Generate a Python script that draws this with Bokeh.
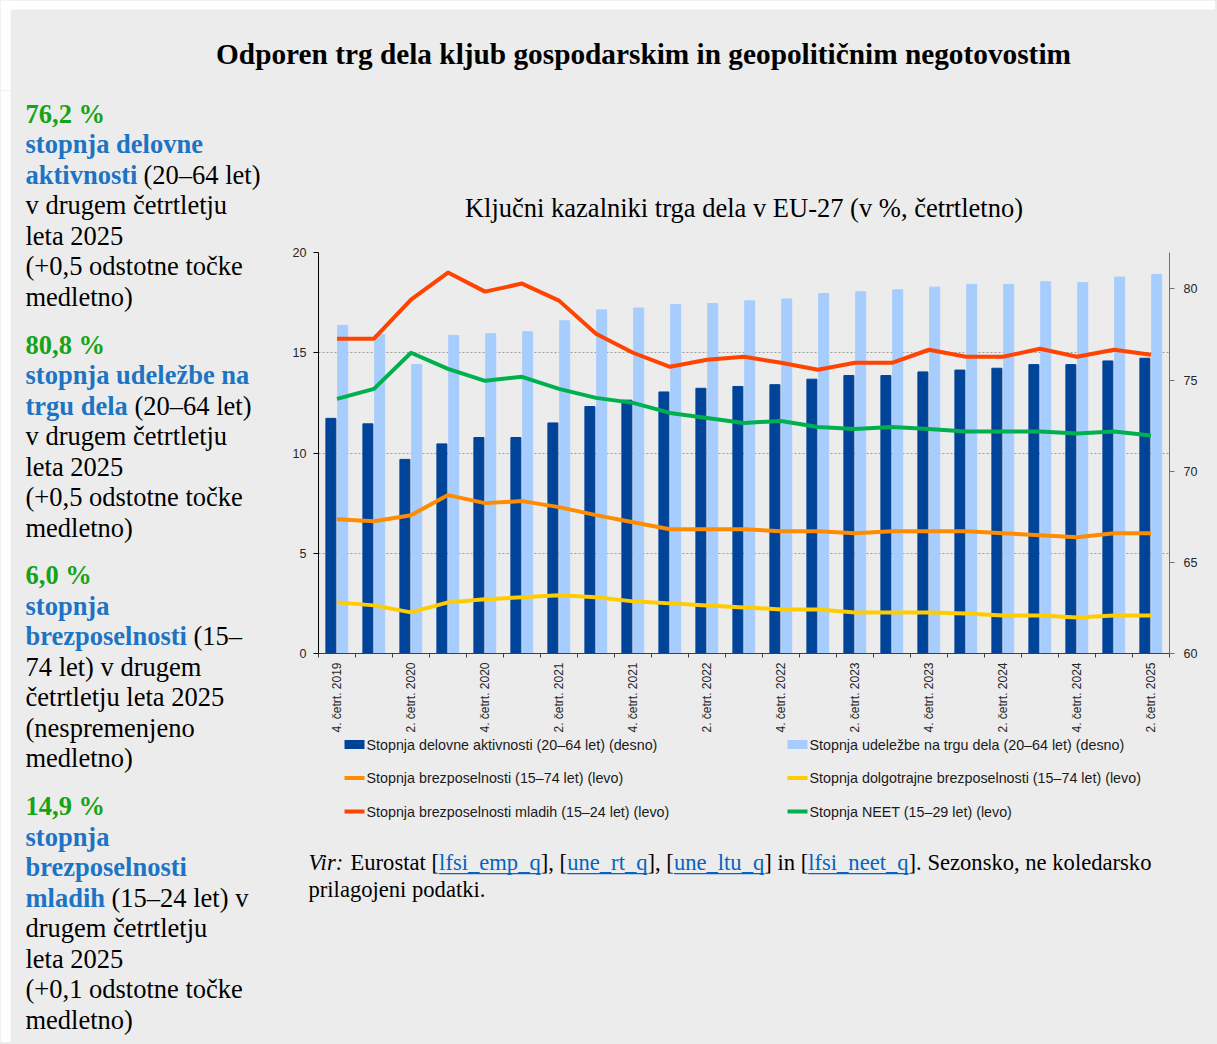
import math
from bokeh.plotting import figure
from bokeh.layouts import column, row
from bokeh.models import (Range1d, LinearAxis, FixedTicker, Label, ColumnDataSource,
                          BoxAnnotation)
from bokeh.transform import dodge
from bokeh.embed import file_html
from bokeh.resources import INLINE

# ---------------- data ----------------
quarters = ["4. četrt. 2019", "1. četrt. 2020", "2. četrt. 2020", "3. četrt. 2020",
            "4. četrt. 2020", "1. četrt. 2021", "2. četrt. 2021", "3. četrt. 2021",
            "4. četrt. 2021", "1. četrt. 2022", "2. četrt. 2022", "3. četrt. 2022",
            "4. četrt. 2022", "1. četrt. 2023", "2. četrt. 2023", "3. četrt. 2023",
            "4. četrt. 2023", "1. četrt. 2024", "2. četrt. 2024", "3. četrt. 2024",
            "4. četrt. 2024", "1. četrt. 2025", "2. četrt. 2025"]

employment = [72.9, 72.6, 70.65, 71.5, 71.85, 71.85, 72.65, 73.55, 73.9, 74.35, 74.55, 74.65,
              74.75, 75.05, 75.25, 75.25, 75.45, 75.55, 75.65, 75.85, 75.85, 76.05, 76.2]
participation = [78.0, 77.5, 75.85, 77.45, 77.55, 77.65, 78.25, 78.85, 78.95, 79.15, 79.2, 79.35,
                 79.45, 79.75, 79.85, 79.95, 80.1, 80.25, 80.25, 80.4, 80.35, 80.65, 80.8]
unemployment = [6.7, 6.6, 6.9, 7.9, 7.5, 7.6, 7.3, 6.9, 6.55, 6.2, 6.2, 6.2,
                6.1, 6.1, 6.0, 6.1, 6.1, 6.1, 6.0, 5.9, 5.8, 6.0, 6.0]
long_term = [2.55, 2.4, 2.05, 2.55, 2.7, 2.8, 2.9, 2.8, 2.6, 2.5, 2.4, 2.3,
             2.2, 2.2, 2.05, 2.05, 2.05, 2.0, 1.9, 1.9, 1.8, 1.9, 1.9]
youth = [15.7, 15.7, 17.65, 19.0, 18.05, 18.45, 17.6, 15.95, 15.0, 14.3, 14.65, 14.8,
         14.5, 14.15, 14.5, 14.5, 15.15, 14.8, 14.8, 15.2, 14.8, 15.15, 14.9]
neet = [12.7, 13.2, 15.0, 14.2, 13.6, 13.8, 13.2, 12.75, 12.5, 12.0, 11.75, 11.5,
        11.6, 11.3, 11.2, 11.3, 11.2, 11.07, 11.07, 11.07, 10.97, 11.07, 10.87]

left_ticks = [0, 5, 10, 15, 20]
right_ticks = [60, 65, 70, 75, 80]

legend_col1 = ["Stopnja delovne aktivnosti (20–64 let) (desno)",
               "Stopnja brezposelnosti (15–74 let) (levo)",
               "Stopnja brezposelnosti mladih (15–24 let) (levo)"]
legend_col2 = ["Stopnja udeležbe na trgu dela (20–64 let) (desno)",
               "Stopnja dolgotrajne brezposelnosti (15–74 let) (levo)",
               "Stopnja NEET (15–29 let) (levo)"]

main_title = "Odporen trg dela kljub gospodarskim in geopolitičnim negotovostim"
chart_title = "Ključni kazalniki trga dela v EU-27 (v %, četrtletno)"

# left column: blocks -> lines -> segments (text, kind); g = green bold, b = blue bold, n = normal
blocks = [
    [[("76,2 %", "g")], [("stopnja delovne", "b")],
     [("aktivnosti", "b"), ("(20–64 let)", "n")],
     [("v drugem četrtletju", "n")], [("leta 2025", "n")],
     [("(+0,5 odstotne točke", "n")], [("medletno)", "n")]],
    [[("80,8 %", "g")], [("stopnja udeležbe na", "b")],
     [("trgu dela", "b"), ("(20–64 let)", "n")],
     [("v drugem četrtletju", "n")], [("leta 2025", "n")],
     [("(+0,5 odstotne točke", "n")], [("medletno)", "n")]],
    [[("6,0 %", "g")], [("stopnja", "b")],
     [("brezposelnosti", "b"), ("(15–", "n")],
     [("74 let) v drugem", "n")], [("četrtletju leta 2025", "n")],
     [("(nespremenjeno", "n")], [("medletno)", "n")]],
    [[("14,9 %", "g")], [("stopnja", "b")], [("brezposelnosti", "b")],
     [("mladih", "b"), ("(15–24 let) v", "n")],
     [("drugem četrtletju", "n")], [("leta 2025", "n")],
     [("(+0,1 odstotne točke", "n")], [("medletno)", "n")]],
]
second_seg_x = {"aktivnosti": 143, "trgu dela": 134, "brezposelnosti": 193, "mladih": 111}

source_parts = [("Vir:", "i", 308), ("Eurostat [", "n", 350), ("lfsi_emp_q", "l", 438.6),
                ("], [", "n", 540.3), ("une_rt_q", "l", 566.7), ("], [", "n", 647),
                ("une_ltu_q", "l", 673.4), ("] in [", "n", 763.8), ("lfsi_neet_q", "l", 807.7),
                ("]. Sezonsko, ne koledarsko", "n", 908.1)]
source_line2 = "prilagojeni podatki."

# ---------------- styling ----------------
BG = "#ececec"
DARK = "#00449a"
LIGHT = "#a6cdfd"
C_YOUTH = "#ff4300"
C_NEET = "#00b04f"
C_UNEMP = "#ff8c00"
C_LT = "#ffcc00"
GREEN_T = "#17a317"
BLUE_T = "#1e74c4"
LINK = "#0563c1"
SERIF = "Liberation Serif"
SANS = "Liberation Sans"

TOTAL_W, TOTAL_H = 1215, 1042
TOP_H = 90          # title strip
LEFT_W = 280        # left text column
CHART_BOTTOM = 736  # page y where chart figure ends
FX0, FX1, FY0, FY1 = 318, 1169, 252, 653   # chart frame edges (page px)
n = len(quarters)


def panel(w, h, x0, y0):
    """Figure whose data coordinates equal page pixels."""
    f = figure(width=w, height=h, x_range=Range1d(x0, x0 + w), y_range=Range1d(y0 + h, y0),
               output_backend="svg", toolbar_location=None, x_axis_location=None,
               y_axis_location=None, min_border=0, background_fill_color=BG,
               border_fill_color=BG, outline_line_color=None)
    f.xgrid.visible = False
    f.ygrid.visible = False
    f.frame_align = False
    return f


def txt(f, px, py, s, size, color, style="normal", font=SERIF, align="left", base=True):
    # py is the text baseline (base=True) or visual centre (base=False)
    y = py - 0.37 * size if base else py
    f.add_layout(Label(x=px, y=y, text=s, text_font=font, text_font_size=f"{size}px",
                       text_color=color, text_font_style=style, text_align=align,
                       text_baseline="alphabetic"))


def box(f, l, r, t, b, color):
    f.add_layout(BoxAnnotation(left=l, right=r, top=t, bottom=b, fill_color=color,
                               fill_alpha=1, line_color=None))


# ---------- top strip with main title ----------
top = panel(TOTAL_W, TOP_H, 0, 0)
box(top, 0, TOTAL_W, 0, 9, "white")
box(top, 0, 10, 0, TOP_H, "white")
txt(top, 643, 64, main_title, 29.3, "#000000", "bold", align="center")

# ---------- left text column ----------
left = panel(LEFT_W, TOTAL_H - TOP_H, 0, TOP_H)
box(left, 0, 10, TOP_H, TOTAL_H, "white")
kind_style = {"g": (GREEN_T, "bold"), "b": (BLUE_T, "bold"), "n": ("#000000", "normal")}
for bi, block in enumerate(blocks):
    base = 123.3 + 230.7 * bi
    for li, line in enumerate(block):
        py = base + 30.5 * li
        for si, (s, kind) in enumerate(line):
            col, sty = kind_style[kind]
            px = 25 if si == 0 else second_seg_x[line[0][0]]
            txt(left, px, py, s, 26.5, col, sty)

# ---------- chart ----------
CW = TOTAL_W - LEFT_W
CH = CHART_BOTTOM - TOP_H
p = figure(width=CW, height=CH, output_backend="svg", toolbar_location=None,
           x_range=Range1d(-0.5, n - 0.5), y_range=Range1d(0, 20),
           min_border_left=FX0 - LEFT_W, min_border_right=TOTAL_W - FX1,
           min_border_top=FY0 - TOP_H, min_border_bottom=CHART_BOTTOM - FY1,
           background_fill_color=BG, border_fill_color=BG, outline_line_color=None,
           title=chart_title)
p.frame_align = False
p.title.align = "center"
p.title.text_font = SERIF
p.title.text_font_size = "26.5px"
p.title.text_font_style = "normal"
p.title.text_color = "#000000"
p.title.standoff = 59

src = ColumnDataSource(dict(x=list(range(n)), emp=employment, part=participation,
                            unemp=unemployment, lt=long_term, youth=youth, neet=neet))

p.extra_y_ranges = {"r": Range1d(60, 82)}

p.vbar(x=dodge("x", -0.165, range=p.x_range), top="emp", bottom=60, width=0.27,
       y_range_name="r", source=src, fill_color=DARK, line_color=DARK)
p.vbar(x=dodge("x", 0.155, range=p.x_range), top="part", bottom=60, width=0.27,
       y_range_name="r", source=src, fill_color=LIGHT, line_color=LIGHT)
p.line("x", "unemp", source=src, line_width=4, line_color=C_UNEMP, line_join="round")
p.line("x", "lt", source=src, line_width=4, line_color=C_LT, line_join="round")
p.line("x", "neet", source=src, line_width=4, line_color=C_NEET, line_join="round")
p.line("x", "youth", source=src, line_width=4, line_color=C_YOUTH, line_join="round")

p.yaxis.ticker = FixedTicker(ticks=left_ticks)
p.yaxis.axis_line_color = "#000000"
p.yaxis.major_tick_line_color = "#000000"
p.yaxis.major_tick_out = 5
p.yaxis.major_tick_in = 0
p.yaxis.minor_tick_line_color = None
p.yaxis.major_label_standoff = 7
p.yaxis.major_label_text_font = SANS
p.yaxis.major_label_text_font_size = "12.5px"
p.yaxis.major_label_text_color = "#262626"

ax_r = LinearAxis(y_range_name="r", ticker=FixedTicker(ticks=right_ticks))
ax_r.axis_line_color = "#707070"
ax_r.major_tick_line_color = "#707070"
ax_r.major_tick_out = 5
ax_r.major_tick_in = 0
ax_r.minor_tick_line_color = None
ax_r.major_label_standoff = 9
ax_r.major_label_text_font = SANS
ax_r.major_label_text_font_size = "12.5px"
ax_r.major_label_text_color = "#262626"
p.add_layout(ax_r, "right")

label_idx = list(range(0, n, 2))
p.xaxis.ticker = FixedTicker(ticks=label_idx, minor_ticks=[i - 0.5 for i in range(n + 1)])
p.xaxis.major_label_overrides = {i: quarters[i] for i in label_idx}
p.xaxis.major_label_orientation = math.pi / 2
p.xaxis.major_tick_line_color = None
p.xaxis.major_tick_out = 0
p.xaxis.major_tick_in = 0
p.xaxis.minor_tick_line_color = "#404040"
p.xaxis.minor_tick_out = 4
p.xaxis.minor_tick_in = 0
p.xaxis.axis_line_color = "#404040"
p.xaxis.major_label_standoff = 5
p.xaxis.major_label_text_font = SANS
p.xaxis.major_label_text_font_size = "12px"
p.xaxis.major_label_text_color = "#262626"

p.xgrid.visible = False
p.ygrid.ticker = FixedTicker(ticks=left_ticks)
p.ygrid.grid_line_color = "#9c9c9c"
p.ygrid.grid_line_dash = "2 2"
p.ygrid.grid_line_width = 1

# ---------- bottom: legend + source ----------
BH = TOTAL_H - CHART_BOTTOM
bot = panel(CW, BH, LEFT_W, CHART_BOTTOM)

legend_rows = [744, 777.5, 811]
legend_cols = [(344, legend_col1, [(DARK, 9), (C_UNEMP, 4), (C_YOUTH, 4)]),
               (787, legend_col2, [(LIGHT, 9), (C_LT, 4), (C_NEET, 4)])]
for cx, labels, swatches in legend_cols:
    for ry, lab, (colr, hgt) in zip(legend_rows, labels, swatches):
        box(bot, cx, cx + 20, ry - hgt / 2, ry + hgt / 2, colr)
        txt(bot, cx + 22, ry, lab, 14.3, "#1a1a1a", font=SANS, base=False)

for s, kind, px in source_parts:
    if kind == "i":
        txt(bot, px, 870, s, 22.6, "#000000", "italic")
    elif kind == "l":
        txt(bot, px, 870, s, 22.6, LINK)
    else:
        txt(bot, px, 870, s, 22.6, "#000000")
txt(bot, 308, 897, source_line2, 22.6, "#000000")

link_spans = [(438.6, 540.3), (566.7, 647), (673.4, 763.8), (807.7, 908.1)]
for a, b in link_spans:
    box(bot, a, b, 872.5, 873.7, LINK)

layout = column(top, row(left, column(p, bot, spacing=0), spacing=0), spacing=0)
html = file_html(layout, INLINE)
html = html.replace("</head>", "<style>body{background:#ececec;}</style></head>", 1)
open("out.html", "w").write(html)
